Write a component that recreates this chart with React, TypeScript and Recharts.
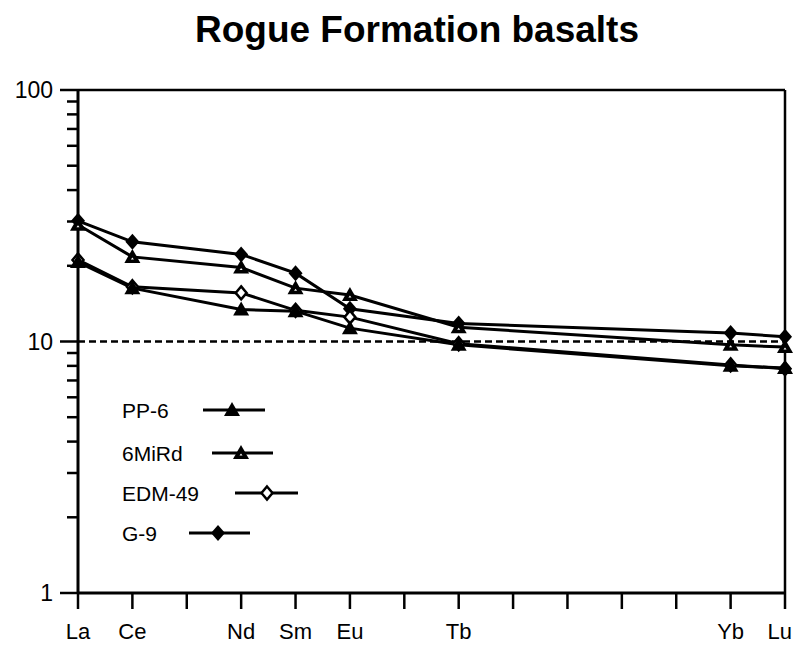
import React from "react";
import { LineChart, Line, XAxis, YAxis, ReferenceLine, Legend } from "recharts";

const elements = ["La", "Ce", "Pr", "Nd", "Sm", "Eu", "Gd", "Tb", "Dy", "Ho", "Er", "Tm", "Yb", "Lu"];
const labelled = ["La", "Ce", "Nd", "Sm", "Eu", "Tb", "Yb", "Lu"];

const pp6 = [20.7, 16.3, null, 13.4, 13.2, 11.3, null, 9.7, null, null, null, null, 8.0, 7.85];
const miRd = [29.1, 21.7, null, 19.7, 16.3, 15.3, null, 11.4, null, null, null, null, 9.7, 9.5];
const edm49 = [21.1, 16.5, null, 15.6, 13.3, 12.5, null, 9.8, null, null, null, null, 8.07, 7.8];
const g9 = [30.2, 24.9, null, 22.2, 18.7, 13.5, null, 11.8, null, null, null, null, 10.8, 10.45];

const yTicks = [1, 2, 3, 4, 5, 6, 7, 8, 9, 10, 20, 30, 40, 50, 60, 70, 80, 90, 100];
const yLabels = [1, 10, 100];

const data = elements.map((el, i) => ({
  x: i,
  el,
  pp6: pp6[i],
  miRd: miRd[i],
  edm49: edm49[i],
  g9: g9[i],
}));

const FONT = "'Liberation Sans', Arial, Helvetica, sans-serif";

const triangle = (cx: number, cy: number) =>
  `${cx},${cy - 8} ${cx + 8},${cy + 6} ${cx - 8},${cy + 6}`;
const diamond = (cx: number, cy: number, w: number, h: number) =>
  `${cx},${cy - h} ${cx + w},${cy} ${cx},${cy + h} ${cx - w},${cy}`;

const FilledTriangle = ({ cx, cy }: { cx: number; cy: number }) => (
  <polygon points={triangle(cx, cy)} fill="#000" />
);
const OpenTriangle = ({ cx, cy }: { cx: number; cy: number }) => (
  <g>
    <polygon points={triangle(cx, cy)} fill="#000" />
    <polygon points={`${cx},${cy + 0.5} ${cx + 1.5},${cy + 2.5} ${cx - 1.5},${cy + 2.5}`} fill="#fff" />
  </g>
);
const FilledDiamond = ({ cx, cy }: { cx: number; cy: number }) => (
  <polygon points={diamond(cx, cy, 7, 8)} fill="#000" />
);
const OpenDiamond = ({ cx, cy }: { cx: number; cy: number }) => (
  <polygon points={diamond(cx, cy, 5.5, 6.5)} fill="#fff" stroke="#000" strokeWidth={2.5} />
);

const makeDot = (Shape: React.FC<{ cx: number; cy: number }>) => (props: any) => {
  const { cx, cy, index } = props;
  if (cx == null || cy == null || props.value == null) return <g key={`d-${index}`} />;
  return (
    <g key={`d-${index}`}>
      <Shape cx={cx} cy={cy} />
    </g>
  );
};

const YTick = (props: any) => {
  const { x, y, payload } = props;
  const major = yLabels.includes(payload.value);
  return (
    <g>
      <line x1={x - (major ? 18 : 11)} x2={x} y1={y} y2={y} stroke="#000" strokeWidth={2.5} />
      {major && (
        <text x={x - 25} y={y} dy="0.36em" textAnchor="end" fontSize={23} fontFamily={FONT} fill="#000">
          {payload.value}
        </text>
      )}
    </g>
  );
};

const XTick = (props: any) => {
  const { x, y, payload } = props;
  const name = elements[payload.value];
  if (!labelled.includes(name)) return <g />;
  const last = payload.value === elements.length - 1;
  return (
    <text
      x={last ? x + 7 : x}
      y={y}
      dy="0.71em"
      textAnchor={last ? "end" : "middle"}
      fontSize={22}
      fontFamily={FONT}
      fill="#000"
    >
      {name}
    </text>
  );
};

const legendItems = [
  { name: "PP-6", y: 410, x1: 203, x2: 265, m: 232, Shape: FilledTriangle },
  { name: "6MiRd", y: 453, x1: 212, x2: 273, m: 241, Shape: OpenTriangle },
  { name: "EDM-49", y: 493, x1: 235, x2: 298, m: 267, Shape: OpenDiamond },
  { name: "G-9", y: 533, x1: 189, x2: 250, m: 218, Shape: FilledDiamond },
];

const LegendBox = () => (
  <svg width={793} height={645} style={{ position: "absolute", left: 0, top: 0, pointerEvents: "none" }}>
    {legendItems.map((it) => (
      <g key={it.name}>
        <text x={122} y={it.y + 8} fontSize={21} fontFamily={FONT} fill="#000">
          {it.name}
        </text>
        <line x1={it.x1} x2={it.x2} y1={it.y} y2={it.y} stroke="#000" strokeWidth={3} />
        <it.Shape cx={it.m} cy={it.y} />
      </g>
    ))}
  </svg>
);

export default function App() {
  return (
    <div style={{ position: "absolute", left: 0, top: 0, width: 793, height: 645, background: "#fff" }}>
      <svg width={793} height={70} style={{ position: "absolute", left: 0, top: 0 }}>
        <text x={417} y={42} textAnchor="middle" fontSize={37} fontWeight="bold" fontFamily={FONT} fill="#000">
          Rogue Formation basalts
        </text>
      </svg>
      <LineChart
        width={793}
        height={645}
        data={data}
        margin={{ top: 90, right: 8, bottom: 0, left: 0 }}
      >
        <XAxis
          dataKey="x"
          type="number"
          domain={[0, 13]}
          ticks={elements.map((_, i) => i)}
          interval={0}
          height={52}
          tickSize={16}
          tickMargin={14}
          axisLine={{ stroke: "#000", strokeWidth: 3 }}
          tickLine={{ stroke: "#000", strokeWidth: 2.5 }}
          tick={<XTick />}
        />
        <YAxis
          type="number"
          scale="log"
          domain={[1, 100]}
          allowDataOverflow
          ticks={yTicks}
          interval={0}
          width={78}
          tickSize={0}
          tickMargin={0}
          axisLine={{ stroke: "#000", strokeWidth: 3 }}
          tickLine={false}
          tick={<YTick />}
        />
        <ReferenceLine y={100} stroke="#000" strokeWidth={2.5} />
        <ReferenceLine x={13} stroke="#000" strokeWidth={2.5} />
        <ReferenceLine y={10} stroke="#000" strokeWidth={2.5} strokeDasharray="7 4" />
        <Legend
          layout="vertical"
          align="center"
          verticalAlign="middle"
          wrapperStyle={{ position: "absolute", left: 0, top: 0, width: 0, height: 0 }}
          content={() => <LegendBox />}
        />
        <Line dataKey="g9" name="G-9" stroke="#000" strokeWidth={3} connectNulls isAnimationActive={false} dot={makeDot(FilledDiamond)} />
        <Line dataKey="miRd" name="6MiRd" stroke="#000" strokeWidth={3} connectNulls isAnimationActive={false} dot={makeDot(OpenTriangle)} />
        <Line dataKey="edm49" name="EDM-49" stroke="#000" strokeWidth={3} connectNulls isAnimationActive={false} dot={makeDot(OpenDiamond)} />
        <Line dataKey="pp6" name="PP-6" stroke="#000" strokeWidth={3} connectNulls isAnimationActive={false} dot={makeDot(FilledTriangle)} />
      </LineChart>
    </div>
  );
}
